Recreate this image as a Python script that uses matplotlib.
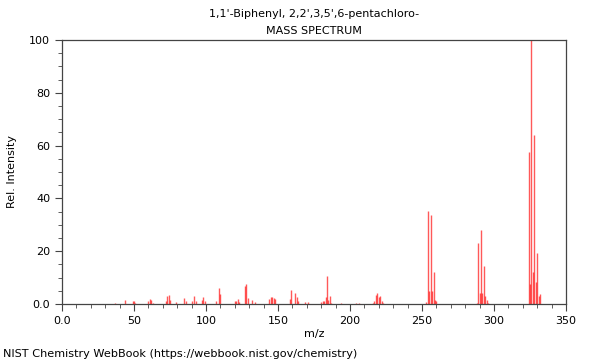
import matplotlib
matplotlib.use("Agg")
import matplotlib.pyplot as plt
from matplotlib.ticker import MultipleLocator

# peaks
mz = [37, 44, 49, 50, 51, 60, 61, 62, 63, 72, 73, 74, 75, 79, 85, 86, 90, 92, 93,
      97, 98, 99, 107, 109, 110, 120, 121, 122, 123, 127, 128, 129, 132, 134,
      144, 145, 146, 147, 148, 158, 159, 162, 163, 164, 169, 171,
      180, 181, 182, 183, 184, 185, 186, 187, 194, 204, 206,
      216, 217, 218, 219, 220, 221, 222, 223,
      253, 254, 255, 256, 257, 258, 259, 260,
      288, 289, 290, 291, 292, 293, 294, 295, 296,
      324, 325, 326, 327, 328, 329, 330, 331, 332]
intensity = [0.4, 1.6, 1.3, 1.2, 0.5, 1.0, 2.0, 1.5, 0.5, 1.2, 3.0, 3.5, 1.5, 0.7, 2.1, 1.0, 1.0, 3.0, 1.0,
             1.5, 2.7, 1.0, 1.0, 6.2, 3.8, 1.0, 1.2, 1.8, 0.8, 6.9, 7.4, 2.1, 1.5, 0.7,
             2.0, 2.5, 2.5, 2.3, 2.0, 1.8, 5.3, 4.0, 2.8, 1.2, 0.8, 0.6,
             0.8, 1.0, 1.2, 2.5, 10.6, 1.5, 3.1, 0.5, 0.5, 0.5, 0.4,
             0.5, 1.0, 3.5, 4.0, 2.5, 3.0, 1.0, 0.5,
             0.6, 35.2, 4.9, 33.6, 4.9, 12.2, 1.5, 1.0,
             0.5, 23.0, 4.3, 28.0, 4.3, 14.5, 3.0, 1.5, 0.5,
             57.5, 7.4, 100.0, 12.0, 64.0, 8.3, 19.5, 3.0, 3.6]

title = "1,1'-Biphenyl, 2,2',3,5',6-pentachloro-\nMASS SPECTRUM"
credit = "NIST Chemistry WebBook (https://webbook.nist.gov/chemistry)"

plt.rcParams["font.family"] = "DejaVu Sans"
plt.rcParams["font.size"] = 8

fig = plt.figure(figsize=(6, 3.6), dpi=100)
ax = fig.add_axes([0.1033, 0.1556, 0.84, 0.7333])

ax.vlines(mz, 0, intensity, colors="#ff0000", linewidth=1.0, alpha=0.65)

ax.set_xlim(0, 350)
ax.set_ylim(0, 100)
ax.xaxis.set_minor_locator(MultipleLocator(10))
ax.yaxis.set_minor_locator(MultipleLocator(5))
ax.set_xticks(range(0, 351, 50))
ax.set_xticklabels(["0.0"] + [str(v) for v in range(50, 351, 50)])
ax.set_yticks(range(0, 101, 20))
ax.set_yticklabels(["0.0"] + [str(v) for v in range(20, 101, 20)])
ax.tick_params(which="major", length=5, width=0.8, color="#444444", direction="out")
ax.tick_params(which="minor", length=3, width=0.6, color="#444444", direction="out")
for s in ax.spines.values():
    s.set_color("#444444")
    s.set_linewidth(0.9)

ax.set_xlabel("m/z", labelpad=2)
ax.set_ylabel("Rel. Intensity", labelpad=9)
ax.set_title(title, fontsize=8, linespacing=1.9, pad=4)

fig.text(0.005, 0.004, credit, fontsize=8.15, ha="left", va="bottom")

fig.savefig("out.png", dpi=100)
